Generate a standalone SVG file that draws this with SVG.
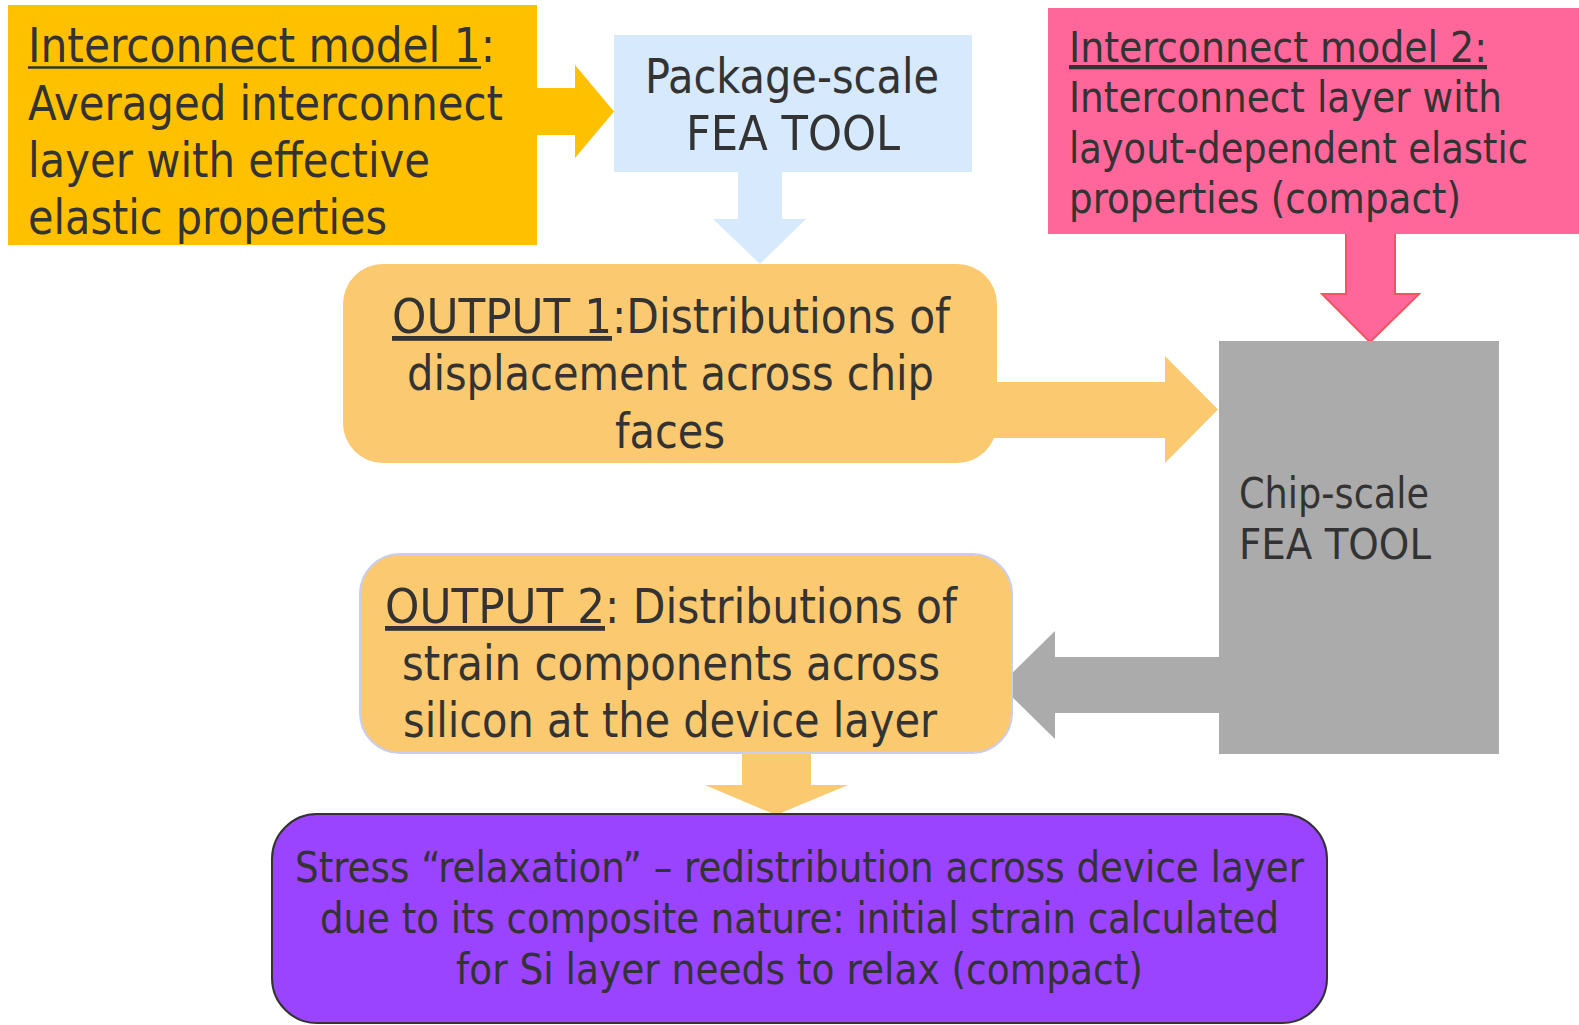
<svg xmlns="http://www.w3.org/2000/svg" width="1579" height="1025" viewBox="0 0 1579 1025">
<style>
text{font-family:"DejaVu Sans Condensed","DejaVu Sans","Liberation Sans",sans-serif;font-stretch:condensed;fill:#333333}
.b{font-size:48px}
.s{font-size:43px}
.u{text-decoration:underline}
.ul{stroke:#333333;stroke-width:2.5}
</style>
<rect x="0" y="0" width="1579" height="1025" fill="#ffffff"/>
<g id="connectors">
<polygon points="530,88 575,88 575,65 614,111.5 575,158 575,135 530,135" fill="#FFC000"/>
<polygon points="738,168 782,168 782,219 806,219 760,264 713,219 738,219" fill="#D6E9FD"/>
<polygon points="990,382 1165,382 1165,356 1218,409.5 1165,463 1165,438 990,438" fill="#FAC970"/>
<polygon points="1346,230 1395,230 1395,294 1419,294 1370,342 1322,294 1346,294" fill="#FF6699" stroke="#F2555F" stroke-width="2"/>
<polygon points="1222,657 1055,657 1055,631 1000,685 1055,739 1055,713 1222,713" fill="#ABABAB"/>
<polygon points="742,750 811,750 811,785 848,785 776,815 705,785 742,785" fill="#FAC970"/>
</g>
<g id="model1">
<rect x="8" y="5" width="529" height="240" fill="#FFC000"/>
<text class="b" x="28" y="62" textLength="467" lengthAdjust="spacingAndGlyphs">Interconnect model 1:</text>
<line class="ul" x1="28" y1="67.5" x2="481" y2="67.5"/>
<text class="b" x="28" y="120" textLength="475" lengthAdjust="spacingAndGlyphs">Averaged interconnect</text>
<text class="b" x="28" y="177" textLength="402" lengthAdjust="spacingAndGlyphs">layer with effective</text>
<text class="b" x="28" y="234" textLength="359" lengthAdjust="spacingAndGlyphs">elastic properties</text>
</g>
<g id="package">
<rect x="614" y="35" width="358" height="137" fill="#D6E9FD"/>
<text class="b" x="645" y="93" textLength="294" lengthAdjust="spacingAndGlyphs">Package-scale</text>
<text class="b" x="686" y="150" textLength="214" lengthAdjust="spacingAndGlyphs">FEA TOOL</text>
</g>
<g id="model2">
<rect x="1048" y="8" width="531" height="226" fill="#FF6699"/>
<text class="s u" x="1069" y="62" textLength="418" lengthAdjust="spacingAndGlyphs">Interconnect model 2:</text>
<text class="s" x="1069" y="112" textLength="433" lengthAdjust="spacingAndGlyphs">Interconnect layer with</text>
<text class="s" x="1069" y="163" textLength="459" lengthAdjust="spacingAndGlyphs">layout-dependent elastic</text>
<text class="s" x="1069" y="213" textLength="392" lengthAdjust="spacingAndGlyphs">properties (compact)</text>
</g>
<g id="output1">
<rect x="343" y="264" width="654" height="199" rx="40" ry="40" fill="#FAC970"/>
<text class="b u" x="392" y="333" textLength="220" lengthAdjust="spacingAndGlyphs">OUTPUT 1</text>
<text class="b" x="612" y="333" textLength="338" lengthAdjust="spacingAndGlyphs">:Distributions of</text>
<text class="b" x="407" y="390" textLength="527" lengthAdjust="spacingAndGlyphs">displacement across chip</text>
<text class="b" x="615" y="448" textLength="110" lengthAdjust="spacingAndGlyphs">faces</text>
</g>
<g id="chip">
<rect x="1219" y="341" width="280" height="413" fill="#ABABAB"/>
<text class="s" x="1239" y="508" textLength="190" lengthAdjust="spacingAndGlyphs">Chip-scale</text>
<text class="s" x="1239" y="559" textLength="192" lengthAdjust="spacingAndGlyphs">FEA TOOL</text>
</g>
<g id="output2">
<rect x="360" y="554" width="652" height="199" rx="40" ry="40" fill="#FAC970" stroke="#C9CDF0" stroke-width="2"/>
<text class="b u" x="385" y="623" textLength="220" lengthAdjust="spacingAndGlyphs">OUTPUT 2</text>
<text class="b" x="605" y="623" textLength="352" lengthAdjust="spacingAndGlyphs">: Distributions of</text>
<text class="b" x="402" y="680" textLength="538" lengthAdjust="spacingAndGlyphs">strain components across</text>
<text class="b" x="403" y="737" textLength="534" lengthAdjust="spacingAndGlyphs">silicon at the device layer</text>
</g>
<g id="relaxation">
<rect x="272" y="814" width="1055" height="209" rx="45" ry="45" fill="#9A44FF" stroke="#333333" stroke-width="2"/>
<text class="s" x="295" y="882" textLength="1009" lengthAdjust="spacingAndGlyphs">Stress “relaxation” – redistribution across device layer</text>
<text class="s" x="320" y="933" textLength="959" lengthAdjust="spacingAndGlyphs">due to its composite nature: initial strain calculated</text>
<text class="s" x="456" y="984" textLength="687" lengthAdjust="spacingAndGlyphs">for Si layer needs to relax (compact)</text>
</g>
</svg>
